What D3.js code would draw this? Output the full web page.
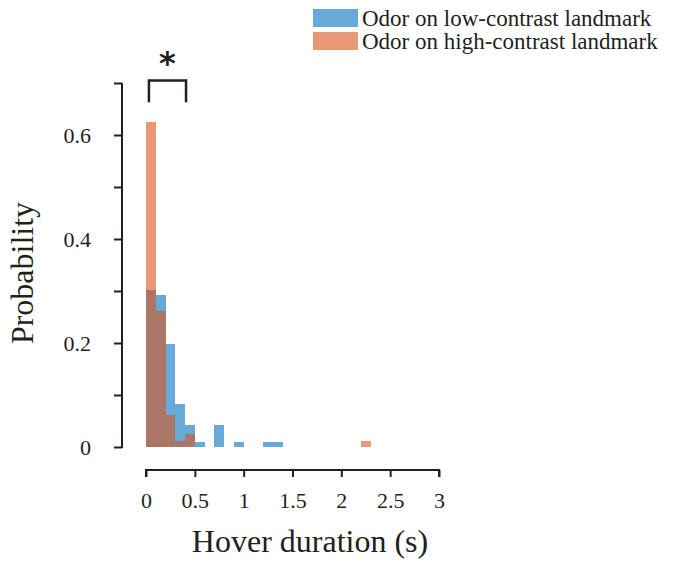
<!DOCTYPE html>
<html>
<head>
<meta charset="utf-8">
<script src="https://cdn.jsdelivr.net/npm/d3@7"></script>
<style>
  html, body { margin: 0; padding: 0; background: #fff; }
  svg { display: block; }
  svg text { font-family: "Liberation Serif", "Times New Roman", serif; }
</style>
</head>
<body>
<svg id="chart" width="689" height="567"></svg>
<script>
// Hover-duration histograms, 0.1 s bins from 0 to 3 s
const binWidth = 0.1;
const binStarts = d3.range(0, 30).map(i => +(i * binWidth).toFixed(1));

// Probability per bin, odor on the low-contrast landmark
const lowContrast = [
  0.302, 0.292, 0.198, 0.083, 0.042, 0.0104, 0, 0.042, 0, 0.0104,
  0, 0, 0.0104, 0.0104, 0, 0, 0, 0, 0, 0,
  0, 0, 0, 0, 0, 0, 0, 0, 0, 0
];
// Probability per bin, odor on the high-contrast landmark
const highContrast = [
  0.625, 0.2625, 0.0625, 0.0125, 0.025, 0, 0, 0, 0, 0,
  0, 0, 0, 0, 0, 0, 0, 0, 0, 0,
  0, 0, 0.0125, 0, 0, 0, 0, 0, 0, 0
];

const seriesNames = ["Odor on low-contrast landmark", "Odor on high-contrast landmark"];
const xTicks = [0, 0.5, 1, 1.5, 2, 2.5, 3];
const yTicks = [0, 0.1, 0.2, 0.3, 0.4, 0.5, 0.6, 0.7];
const yTickLabels = { 0: "0", 0.2: "0.2", 0.4: "0.4", 0.6: "0.6" };
const xTitle = "Hover duration (s)";
const yTitle = "Probability";
const sigBracket = { from: 0.03, to: 0.41, top: 0.705, bottom: 0.663, label: "*" };

const colors = ["#0072BD", "#D95319"];
const barOpacity = 0.6;
const ink = "#231f20";
const serif = '"Liberation Serif", "Times New Roman", serif';

const svg = d3.select("#chart");

const x = d3.scaleLinear().domain([0, 3]).range([146, 439]);
const y = d3.scaleLinear().domain([0, 0.7]).range([447, 83]);

// Bars: low-contrast first, high-contrast drawn translucently on top
[lowContrast, highContrast].forEach((vals, si) => {
  svg.append("g")
    .selectAll("rect")
    .data(vals.map((v, i) => ({ x0: binStarts[i], v })).filter(d => d.v > 0))
    .join("rect")
    .attr("x", d => x(d.x0))
    .attr("width", d => x(d.x0 + binWidth) - x(d.x0))
    .attr("y", d => y(d.v))
    .attr("height", d => y(0) - y(d.v))
    .attr("fill", colors[si])
    .attr("fill-opacity", barOpacity)
    .attr("shape-rendering", "crispEdges");
});

// Y axis (detached to the left of the bars)
const yAxis = d3.axisLeft(y)
  .tickValues(yTicks)
  .tickSize(8)
  .tickPadding(23)
  .tickFormat(d => yTickLabels[+d.toFixed(1)] || "");
const yg = svg.append("g").attr("transform", "translate(122,0)").call(yAxis);
yg.select(".domain").attr("d", `M0,${y(0.7)}V${y(0) + 1}`);

// X axis (detached below the bars)
const xAxis = d3.axisBottom(x)
  .tickValues(xTicks)
  .tickSize(7)
  .tickPadding(15)
  .tickFormat(d3.format("~g"));
const xg = svg.append("g").attr("transform", "translate(0,470)").call(xAxis);
xg.select(".domain").attr("d", `M${x(0)},7V0H${x(3)}V7`);

[yg, xg].forEach(g => {
  g.attr("font-family", null);
  g.selectAll(".domain, .tick line").attr("stroke", ink).attr("stroke-width", 2);
  g.selectAll(".tick text")
    .attr("fill", ink)
    .style("font-family", serif)
    .style("font-size", "22px");
});

// Axis titles
svg.append("text")
  .attr("x", 310).attr("y", 552)
  .attr("text-anchor", "middle")
  .style("font-family", serif)
  .style("font-size", "32px")
  .attr("fill", ink)
  .text(xTitle);

svg.append("text")
  .attr("transform", `translate(33,${273}) rotate(-90)`)
  .attr("text-anchor", "middle")
  .style("font-family", serif)
  .style("font-size", "32px")
  .attr("fill", ink)
  .text(yTitle);

// Significance bracket
svg.append("path")
  .attr("d", `M${x(sigBracket.from)},${y(sigBracket.bottom)}V${y(sigBracket.top)}H${x(sigBracket.to)}V${y(sigBracket.bottom)}`)
  .attr("fill", "none")
  .attr("stroke", ink)
  .attr("stroke-width", 2.5);

svg.append("text")
  .attr("x", (x(sigBracket.from) + x(sigBracket.to)) / 2)
  .attr("y", 74)
  .attr("text-anchor", "middle")
  .style("font-family", '"DejaVu Sans", sans-serif')
  .style("font-size", "32px")
  .style("font-weight", "bold")
  .attr("fill", ink)
  .text(sigBracket.label);

// Legend
const legend = svg.append("g").attr("transform", "translate(313,9)");
seriesNames.forEach((name, i) => {
  const row = legend.append("g").attr("transform", `translate(0,${i * 23})`);
  row.append("rect")
    .attr("width", 45).attr("height", 18)
    .attr("fill", colors[i]).attr("fill-opacity", barOpacity);
  row.append("text")
    .attr("x", 49).attr("y", 17)
    .style("font-family", serif)
    .style("font-size", "23px")
    .attr("fill", ink)
    .text(name);
});
</script>
</body>
</html>
